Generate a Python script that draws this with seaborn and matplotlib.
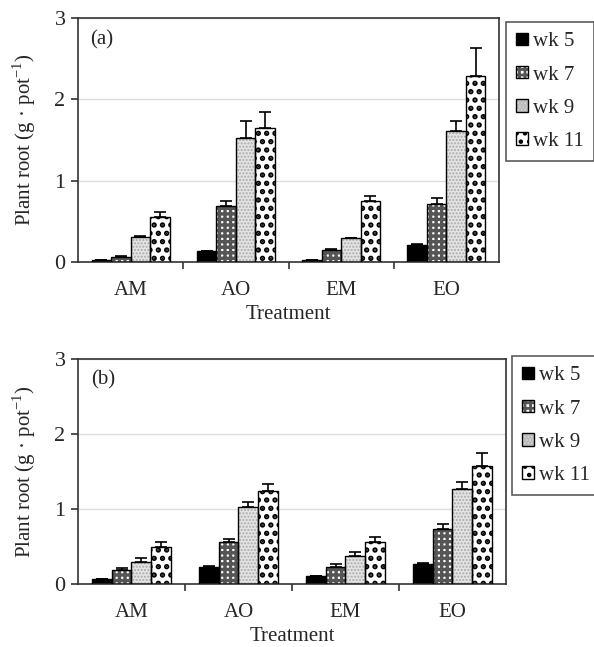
import pandas as pd
import seaborn as sns
import matplotlib.pyplot as plt
from matplotlib.patches import Patch, Rectangle
from matplotlib.ticker import FixedLocator

treatments = ["AM", "AO", "EM", "EO"]
weeks = ["wk 5", "wk 7", "wk 9", "wk 11"]

# panel (a): root mass, one list per week (AM, AO, EM, EO)
a_wk5 = [0.02, 0.13, 0.03, 0.21]
a_wk7 = [0.06, 0.69, 0.15, 0.71]
a_wk9 = [0.31, 1.53, 0.29, 1.61]
a_wk11 = [0.55, 1.65, 0.75, 2.29]
# upper error bars
a_err5 = [0.00, 0.01, 0.00, 0.01]
a_err7 = [0.02, 0.06, 0.01, 0.08]
a_err9 = [0.01, 0.20, 0.01, 0.12]
a_err11 = [0.06, 0.20, 0.06, 0.34]

# panel (b)
b_wk5 = [0.07, 0.23, 0.10, 0.27]
b_wk7 = [0.18, 0.56, 0.22, 0.73]
b_wk9 = [0.29, 1.02, 0.37, 1.27]
b_wk11 = [0.49, 1.24, 0.56, 1.57]
b_err5 = [0.00, 0.01, 0.00, 0.01]
b_err7 = [0.03, 0.04, 0.05, 0.07]
b_err9 = [0.05, 0.07, 0.05, 0.09]
b_err11 = [0.07, 0.09, 0.07, 0.18]

sns.set_theme(style="white")
plt.rcParams["font.family"] = ["Liberation Serif", "DejaVu Serif"]
plt.rcParams["mathtext.fontset"] = "custom"
plt.rcParams["mathtext.rm"] = "Liberation Serif"
plt.rcParams["hatch.linewidth"] = 2.0

# fill style per week: face, hatch colour, hatch, hatch width
styles = [("black", "black", "", 1.0),
          ("white", "#555555", "+++", 2.4),
          ("#e4e4e4", "#aaaaaa", ".....", 1.0),
          ("white", "black", "..", 2.6)]


def make_df(vals):
    rows = []
    for w, v in zip(weeks, vals):
        for t, y in zip(treatments, v):
            rows.append({"Treatment": t, "week": w, "root": y})
    return pd.DataFrame(rows)


def hatch_patch(p, fc, hc, hatch, hw):
    p.set_facecolor(fc)
    p.set_edgecolor(hc)
    p.set_hatch(hatch)
    p.set_linewidth(0)
    if hasattr(p, "set_hatch_linewidth"):
        p.set_hatch_linewidth(hw)


def panel(ax, vals, errs, tag):
    df = make_df(vals)
    sns.barplot(data=df, x="Treatment", y="root", hue="week", order=treatments,
                hue_order=weeks, width=0.74, errorbar=None, legend=False, ax=ax)
    for cont, st, err in zip(ax.containers, styles, errs):
        for bar, e in zip(cont, err):
            hatch_patch(bar, *st)
            ax.add_patch(Rectangle(bar.get_xy(), bar.get_width(), bar.get_height(),
                                   fill=False, ec="black", lw=1.0, zorder=3))
            xc = bar.get_x() + bar.get_width() / 2
            ax.errorbar(xc, bar.get_height(), yerr=[[0], [e]], fmt="none",
                        ecolor="black", elinewidth=1.2, capsize=4.5, capthick=1.2,
                        zorder=2)
    ax.set_ylim(0, 3)
    ax.set_xlim(-0.5, 3.5)
    ax.set_yticks([0, 1, 2, 3])
    ax.yaxis.grid(True, color="#dddddd", lw=1)
    ax.set_axisbelow(True)
    ax.xaxis.set_minor_locator(FixedLocator([0.5, 1.5, 2.5]))
    ax.tick_params(axis="x", which="major", length=0, labelsize=15, pad=14)
    ax.tick_params(axis="x", which="minor", length=5, width=1.2, color="#333333",
                   direction="out", bottom=True)
    ax.tick_params(axis="y", length=5, width=1.2, color="#333333", direction="out",
                   left=True, labelsize=16, pad=4)
    for s in ax.spines.values():
        s.set_color("#333333")
        s.set_linewidth(1.2)
    ax.set_xlabel("Treatment", fontsize=15, labelpad=3)
    ax.set_ylabel(r"Plant root (g · pot$^{-1}$)", fontsize=15, labelpad=12)
    ax.text(0.03, 0.95, tag, transform=ax.transAxes, fontsize=15, va="top")


fig = plt.figure(figsize=(5.94, 6.47), dpi=100)
ax1 = fig.add_axes([0.1313, 0.5950, 0.7088, 0.3771])
ax2 = fig.add_axes([0.1313, 0.0974, 0.7205, 0.3478])

panel(ax1, [a_wk5, a_wk7, a_wk9, a_wk11], [a_err5, a_err7, a_err9, a_err11], "(a)")
panel(ax2, [b_wk5, b_wk7, b_wk9, b_wk11], [b_err5, b_err7, b_err9, b_err11], "(b)")

handles = []
for fc, hc, hatch, hw in styles:
    hp = Patch()
    hatch_patch(hp, fc, hc, hatch, hw)
    handles.append((hp, Patch(fill=False, edgecolor="black", lw=1.0)))

for ax, anchor in [(ax1, (506 / 594, 1 - 22 / 647)), (ax2, (512 / 594, 1 - 356 / 647))]:
    leg = ax.legend(handles, weeks, loc="upper left", bbox_to_anchor=anchor,
                    bbox_transform=fig.transFigure, fontsize=15, frameon=True,
                    fancybox=False, edgecolor="#333333", handlelength=0.55,
                    handleheight=0.55, handletextpad=0.25, labelspacing=0.68,
                    borderpad=0.5, borderaxespad=0)
    leg.get_frame().set_linewidth(1.2)

fig.savefig("out.png", dpi=100)
